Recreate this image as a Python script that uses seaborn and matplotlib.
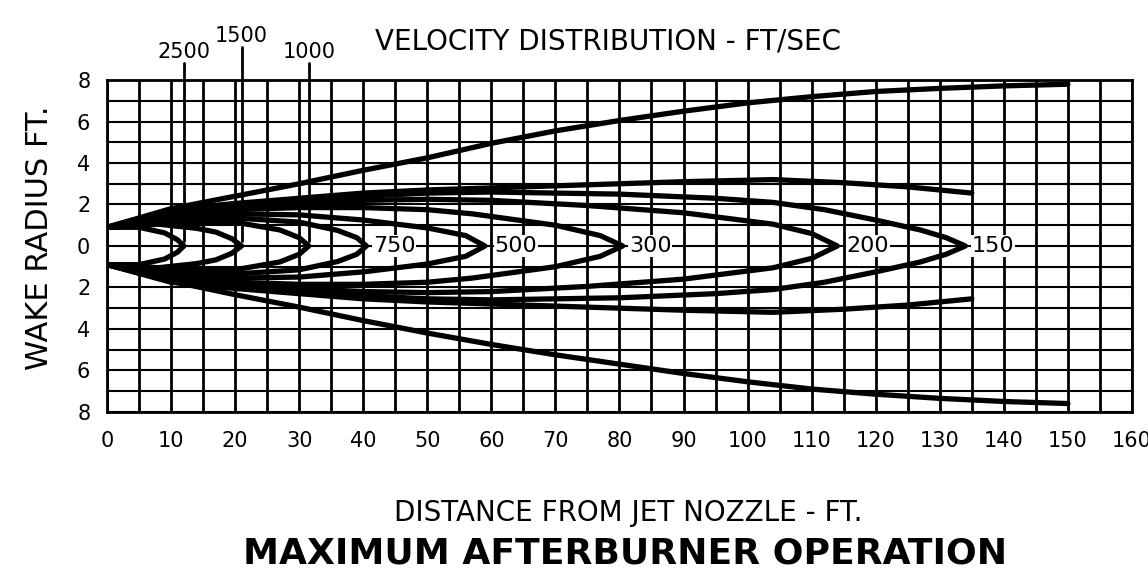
import seaborn as sns
import matplotlib.pyplot as plt
from matplotlib.ticker import MultipleLocator

# velocity contours (ft/sec): distance from nozzle (ft) and half-width (ft)
v2500_x = [0, 5, 9, 11, 12]
v2500_r = [0.9, 0.9, 0.63, 0.3, 0]
v1500_x = [0, 8, 14, 17, 19.5, 21]
v1500_r = [0.9, 1.05, 0.85, 0.67, 0.35, 0]
v1000_x = [0, 10, 20, 27, 30, 31.5]
v1000_r = [0.9, 1.15, 1.15, 0.77, 0.4, 0]
v750_x = [0, 10, 20, 30, 36, 39, 40.5]
v750_r = [0.9, 1.25, 1.35, 1.15, 0.75, 0.4, 0]
v500_x = [0, 10, 20, 30, 40, 50, 56, 59]
v500_r = [0.9, 1.4, 1.55, 1.5, 1.25, 0.87, 0.5, 0]
v300_x = [0, 10, 20, 30, 40, 50, 57, 70, 77, 80.5]
v300_r = [0.9, 1.5, 1.75, 1.85, 1.85, 1.75, 1.55, 1.0, 0.5, 0]
v200_x = [0, 10, 20, 30, 40, 50, 60, 75, 90, 104, 110, 114]
v200_r = [0.9, 1.6, 1.9, 2.05, 2.2, 2.25, 2.2, 1.95, 1.6, 1.05, 0.6, 0]
v150_x = [0, 10, 20, 30, 40, 50, 60, 80, 95, 104, 112, 120, 127, 131, 134]
v150_r = [0.9, 1.65, 1.95, 2.2, 2.4, 2.55, 2.6, 2.5, 2.3, 2.1, 1.75, 1.25,
          0.77, 0.4, 0]
closed_contours = [(v2500_x, v2500_r), (v1500_x, v1500_r),
                   (v1000_x, v1000_r), (v750_x, v750_r), (v500_x, v500_r),
                   (v300_x, v300_r), (v200_x, v200_r), (v150_x, v150_r)]

# outer contour that stops at 135 ft
open_x = [0, 10, 20, 30, 40, 50, 60, 75, 90, 104, 115, 125, 135]
open_r = [0.9, 1.75, 2.05, 2.3, 2.55, 2.7, 2.8, 2.95, 3.1, 3.2, 3.05, 2.85,
          2.55]

# wake envelope
env_x = [0, 10, 20, 30, 40, 50, 60, 70, 80, 90, 100, 110, 120, 130, 140, 150]
env_upper = [0.9, 1.8, 2.4, 3.0, 3.65, 4.25, 4.95, 5.55, 6.05, 6.5, 6.9, 7.2,
             7.45, 7.6, 7.72, 7.8]
env_lower = [-0.9, -1.7, -2.35, -2.95, -3.6, -4.2, -4.75, -5.25, -5.7, -6.15,
             -6.55, -6.9, -7.15, -7.35, -7.5, -7.6]

# labels at the contour tips and labels with leader lines
tip_labels = ['750', '500', '300', '200', '150']
tip_label_x = [41.5, 60.5, 81.5, 115.5, 135]
lead_labels = ['2500', '1500', '1000']
lead_x = [12, 21, 31.5]
lead_top = [8.8, 9.6, 8.8]

x_ticks = list(range(0, 161, 10))
y_ticks = [-8, -6, -4, -2, 0, 2, 4, 6, 8]
y_tick_labels = ['8', '6', '4', '2', '0', '2', '4', '6', '8']

sns.set_theme(style='white')
plt.rcParams['font.family'] = ['DejaVu Sans']
plt.rcParams['text.color'] = 'black'

fig = plt.figure(figsize=(11.48, 5.72), dpi=100)
ax = fig.add_axes([0.0932, 0.280, 0.8928, 0.580])

lw = 3.8
for cx, cr in closed_contours:
    xs = cx + cx[::-1]
    ys = cr + [-r for r in cr[::-1]]
    sns.lineplot(x=xs, y=ys, sort=False, estimator=None, color='black',
                 lw=lw, ax=ax)
sns.lineplot(x=open_x, y=open_r, sort=False, estimator=None, color='black',
             lw=lw, ax=ax)
sns.lineplot(x=open_x, y=[-r for r in open_r], sort=False, estimator=None,
             color='black', lw=lw, ax=ax)
sns.lineplot(x=env_x, y=env_upper, sort=False, estimator=None, color='black',
             lw=lw, ax=ax)
sns.lineplot(x=env_x, y=env_lower, sort=False, estimator=None, color='black',
             lw=lw, ax=ax)

for lx, top in zip(lead_x, lead_top):
    ax.plot([lx, lx], [0.25, top], color='black', lw=2, clip_on=False)
for lab, lx, top in zip(lead_labels, lead_x, lead_top):
    ax.text(lx, top + 0.05, lab, ha='center', va='bottom', fontsize=15,
            color='black')
for lab, tx in zip(tip_labels, tip_label_x):
    ax.text(tx, 0, lab, ha='left', va='center', fontsize=16, color='black',
            bbox=dict(facecolor='white', edgecolor='none', pad=0.5))

ax.set_xlim(0, 160)
ax.set_ylim(-8, 8)
ax.set_xticks(x_ticks)
ax.set_xticklabels([str(t) for t in x_ticks])
ax.set_yticks(y_ticks)
ax.set_yticklabels(y_tick_labels)
ax.xaxis.set_minor_locator(MultipleLocator(5))
ax.yaxis.set_minor_locator(MultipleLocator(1))
ax.grid(True, which='both', axis='x', color='black', lw=2)
ax.grid(True, which='both', axis='y', color='black', lw=1.5)
ax.set_axisbelow(True)
ax.tick_params(axis='both', which='both', length=0, labelsize=15,
               colors='black')
ax.tick_params(axis='x', pad=14)
ax.tick_params(axis='y', pad=12)
for s in ax.spines.values():
    s.set_color('black')
    s.set_linewidth(2)
ax.set_xlabel('')
ax.set_ylabel('')

fig.text(608 / 1148, 1 - 42 / 572, 'VELOCITY DISTRIBUTION - FT/SEC',
         ha='center', va='center', fontsize=20, color='black')
fig.text(40 / 1148, 1 - 238 / 572, 'WAKE RADIUS FT.', ha='center',
         va='center', rotation=90, fontsize=22, color='black')
fig.text(628 / 1148, 1 - 513 / 572, 'DISTANCE FROM JET NOZZLE - FT.',
         ha='center', va='center', fontsize=20, color='black')
fig.text(625 / 1148, 1 - 553 / 572, 'MAXIMUM AFTERBURNER OPERATION',
         ha='center', va='center', fontsize=26, fontweight='bold',
         color='black')

fig.savefig('out.png', dpi=100, facecolor='white')
